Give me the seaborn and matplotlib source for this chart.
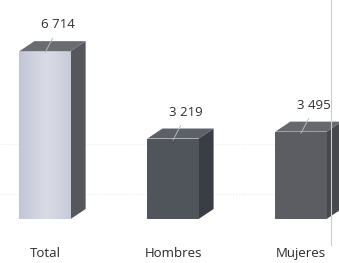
import numpy as np
import seaborn as sns
import matplotlib.pyplot as plt
from matplotlib.patches import Polygon
from matplotlib.lines import Line2D

categorias = ["Total", "Hombres", "Mujeres"]
valores = [6714, 3219, 3495]
etiquetas = ["6 714", "3 219", "3 495"]
colores_frente = ["#c3c6d4", "#50545b", "#5b5d62"]
colores_lado = ["#56575d", "#3a3d43", "#46484d"]
colores_tapa = ["#6b6c72", "#5d6067", "#66686d"]

sns.set_theme(style="white")
plt.rcParams["font.family"] = ["Open Sans", "DejaVu Sans"]

fig = plt.figure(figsize=(3.39, 2.63), dpi=100)
ax = fig.add_axes([0, 44 / 263, 1, 219 / 263])

sns.barplot(x=categorias, y=valores, hue=categorias, palette=colores_frente,
            width=0.4, saturation=1, legend=False, ax=ax, zorder=3,
            edgecolor="none", linewidth=0)

# profundidad "3D" de las barras
dx, dy = 0.117, 400
barras = sorted(ax.patches, key=lambda p: p.get_x())
for i, p in enumerate(barras):
    x0, w, h = p.get_x(), p.get_width(), p.get_height()
    lado = Polygon([(x0 + w, 0), (x0 + w + dx, dy), (x0 + w + dx, h + dy), (x0 + w, h)],
                   closed=True, facecolor=colores_lado[i], edgecolor="none", lw=0, zorder=2)
    tapa = Polygon([(x0, h), (x0 + dx, h + dy), (x0 + w + dx, h + dy), (x0 + w, h)],
                   closed=True, facecolor=colores_tapa[i], edgecolor="none", lw=0, zorder=4)
    ax.add_patch(lado)
    ax.add_patch(tapa)
    if i == 0:
        # brillo suave en la barra del total
        grad = np.abs(np.linspace(-1, 1, 60) - 0.1) ** 1.2
        ax.imshow(grad[np.newaxis, :], cmap=sns.blend_palette(["#d8dbe6", "#c2c5d4"], as_cmap=True),
                  extent=(x0, x0 + w, 0, h), aspect="auto", zorder=3.5)
    xc = x0 + w / 2
    ax.plot([xc, xc + 0.06], [h - 60, h + 520], color="#b8b8b8", lw=0.7, zorder=5)
    ax.text(xc + 0.10, h + 1050, etiquetas[i], ha="center", va="center",
            fontsize=9.5, color="#2e2e2e", zorder=6)

ax.set_xlim(-0.352, 2.297)
ax.set_ylim(0, 8760)
ax.set_yticks([1000, 3000])
ax.set_yticklabels([])
ax.yaxis.grid(True, linestyle=":", color="#ebebeb", linewidth=0.8, zorder=0)
ax.tick_params(axis="x", length=0, pad=20, labelsize=9.5, labelcolor="#2a2a2a")
ax.tick_params(axis="y", length=0)
ax.set_xlabel("")
ax.set_ylabel("")
sns.despine(ax=ax, left=True, bottom=True)

fig.add_artist(Line2D([331 / 339, 331 / 339], [18 / 263, 1], color="#cdcdcd", lw=0.8))

fig.savefig("out.png", dpi=100)
